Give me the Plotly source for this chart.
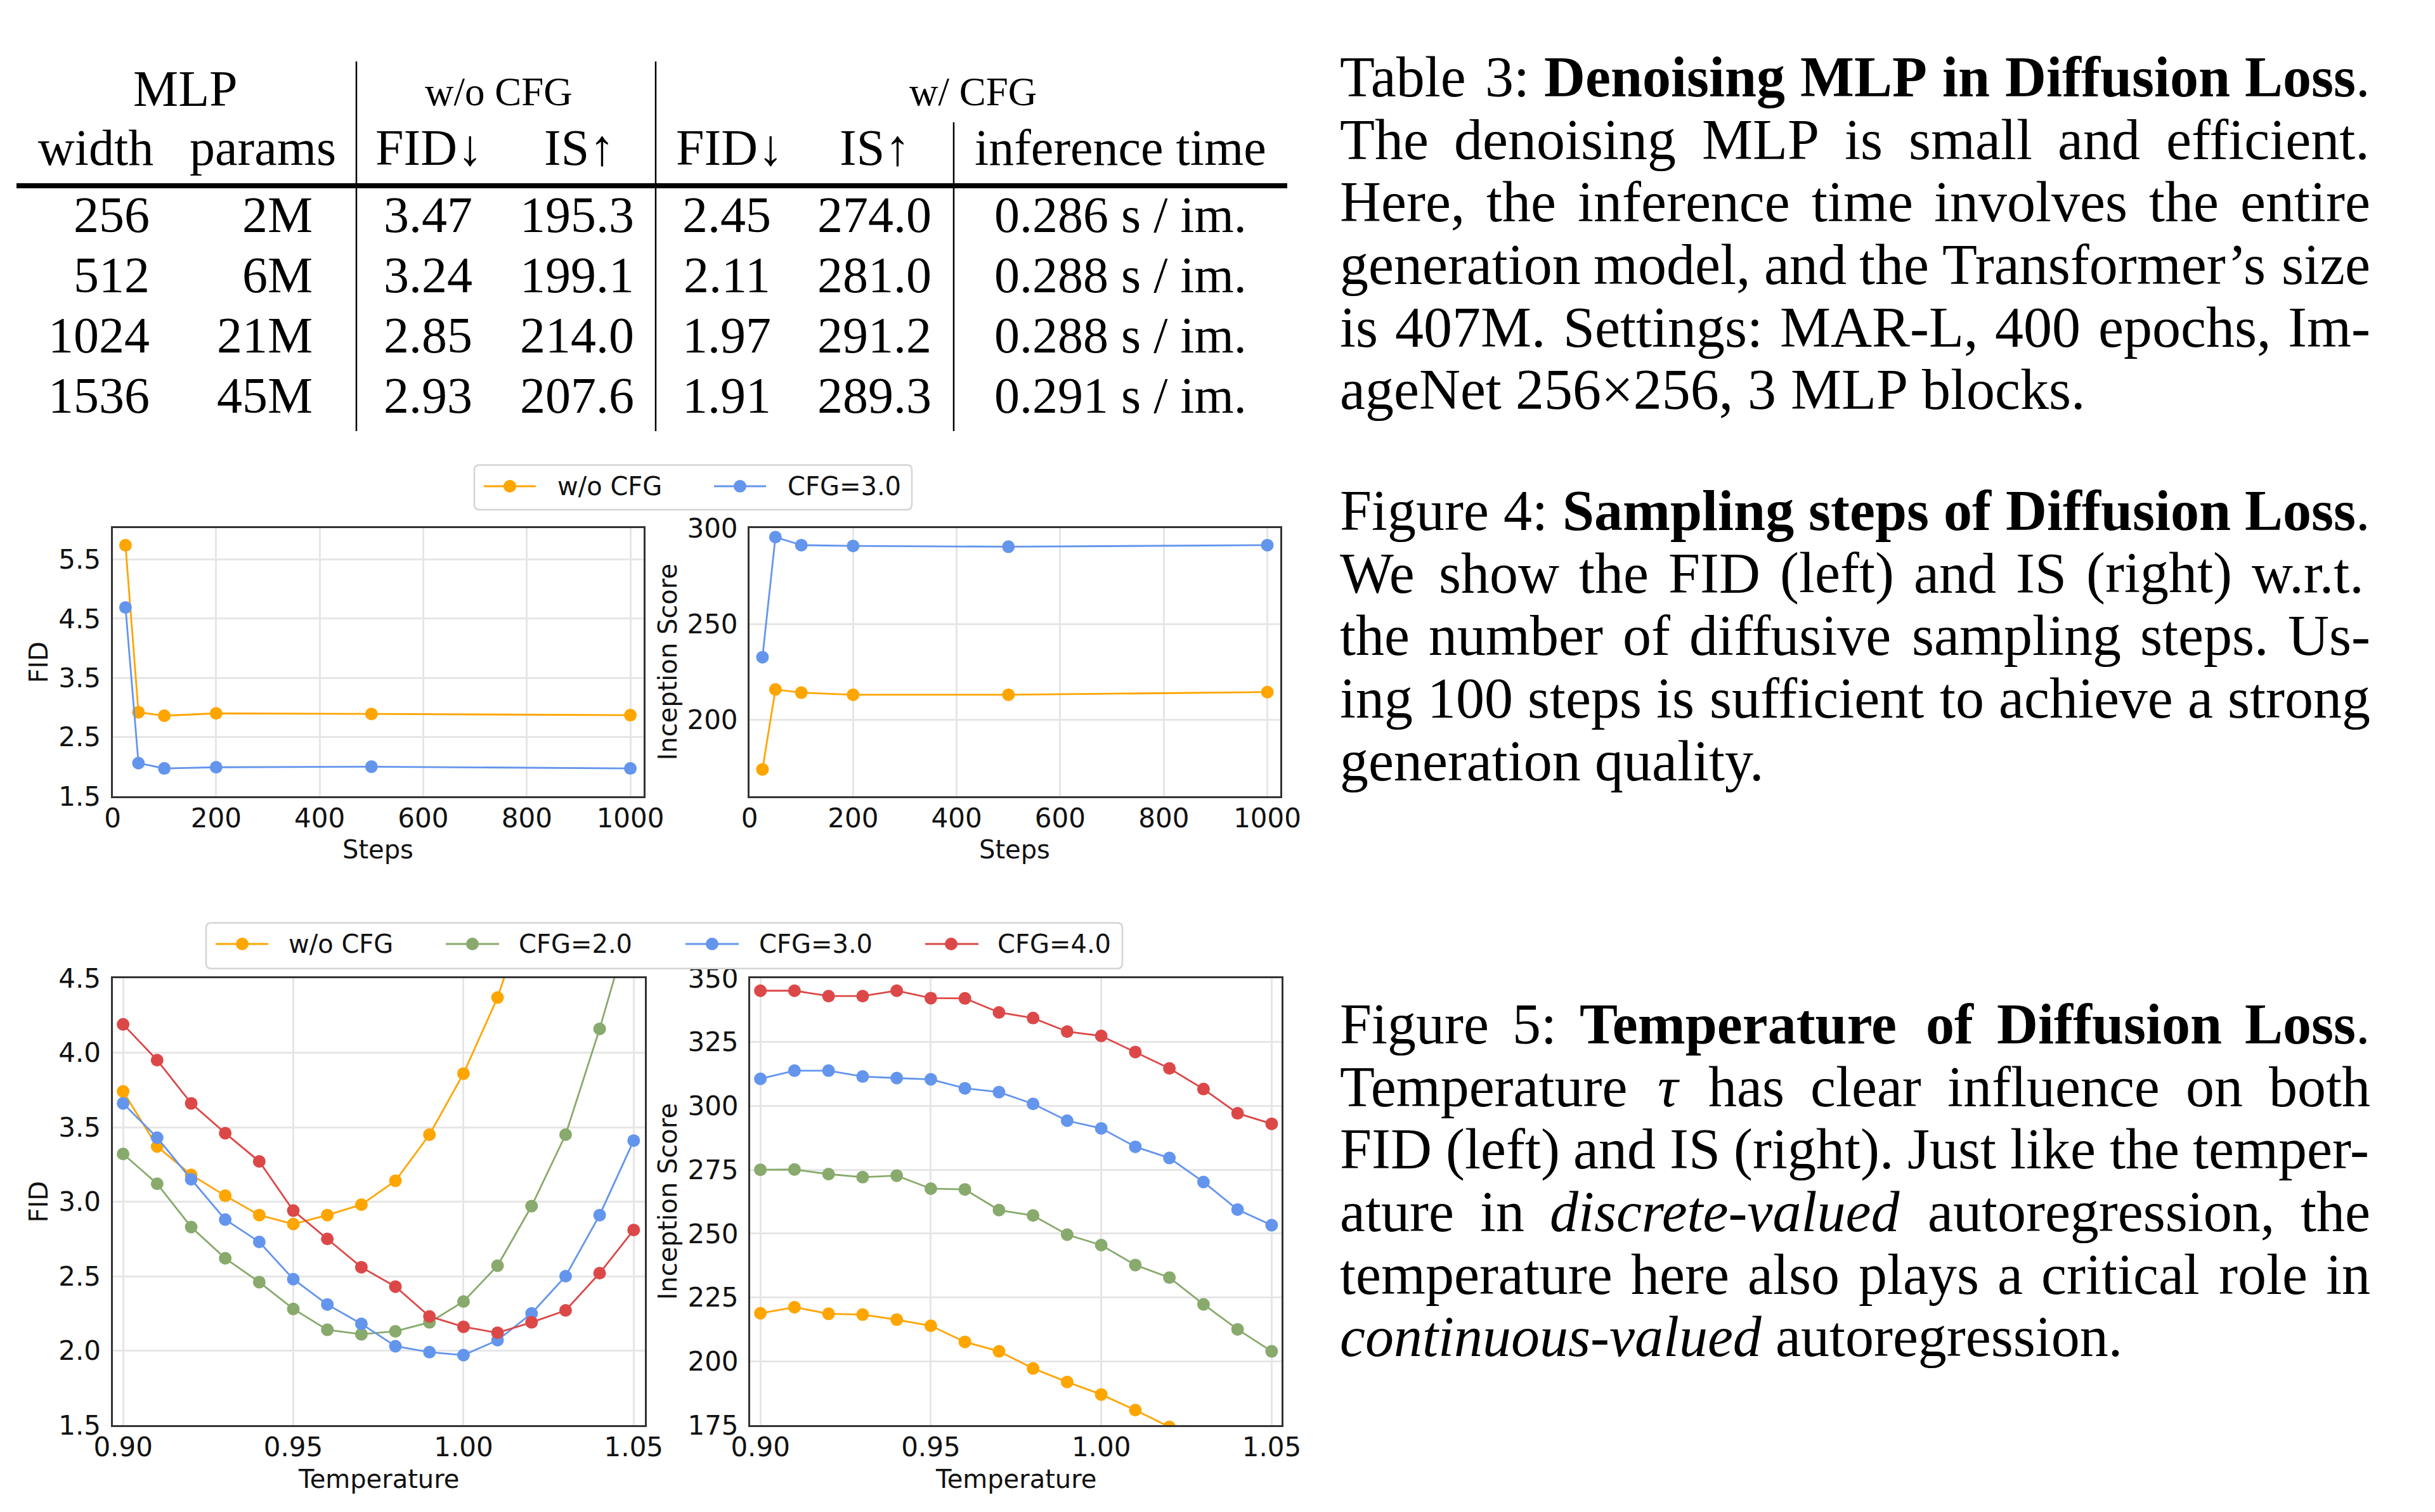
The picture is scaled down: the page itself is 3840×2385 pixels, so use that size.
import re
import plotly.graph_objects as go

# ---------------------------------------------------------------- data
steps = [25, 50, 100, 200, 500, 1000]
fid_steps_nocfg = [5.74, 2.92, 2.86, 2.90, 2.89, 2.87]
fid_steps_cfg3 = [4.69, 2.06, 1.97, 1.99, 2.00, 1.97]
is_steps_nocfg = [174.2, 215.9, 214.2, 213.1, 213.1, 214.5]
is_steps_cfg3 = [232.7, 295.3, 291.1, 290.7, 290.3, 291.1]

temps = [0.90, 0.91, 0.92, 0.93, 0.94, 0.95, 0.96, 0.97, 0.98, 0.99,
         1.00, 1.01, 1.02, 1.03, 1.04, 1.05]
fid_temp_nocfg = [3.74, 3.37, 3.18, 3.04, 2.91, 2.85, 2.91, 2.98, 3.14, 3.45,
                  3.86, 4.37, 5.05, None, None, None]
fid_temp_cfg2 = [3.32, 3.12, 2.83, 2.62, 2.46, 2.28, 2.14, 2.11, 2.13, 2.19,
                 2.33, 2.57, 2.97, 3.45, 4.16, 4.95]
fid_temp_cfg3 = [3.66, 3.43, 3.15, 2.88, 2.73, 2.48, 2.31, 2.18, 2.03, 1.99,
                 1.97, 2.07, 2.25, 2.50, 2.91, 3.41]
fid_temp_cfg4 = [4.19, 3.95, 3.66, 3.46, 3.27, 2.94, 2.75, 2.56, 2.43, 2.23,
                 2.16, 2.12, 2.19, 2.27, 2.52, 2.81]
is_temp_nocfg = [218.8, 221.2, 218.6, 218.3, 216.3, 213.9, 207.6, 203.9, 197.2, 191.9,
                 187.0, 180.9, 174.3, None, None, None]
is_temp_cfg2 = [275.0, 275.1, 273.3, 272.1, 272.7, 267.6, 267.3, 259.2, 257.1, 249.6,
                245.5, 237.7, 232.8, 222.3, 212.5, 203.9]
is_temp_cfg3 = [310.6, 313.8, 313.8, 311.5, 310.9, 310.4, 306.9, 305.4, 300.8, 294.2,
                291.2, 284.0, 279.6, 270.2, 259.4, 253.3]
is_temp_cfg4 = [345.1, 345.1, 343.0, 343.0, 345.1, 342.2, 342.1, 336.6, 334.4, 329.1,
                327.4, 321.1, 314.7, 306.6, 297.1, 293.0]

series_names_fig4 = ["w/o CFG", "CFG=3.0"]
series_names_fig5 = ["w/o CFG", "CFG=2.0", "CFG=3.0", "CFG=4.0"]

steps_ticks = [0, 200, 400, 600, 800, 1000]
fid_steps_ticks = [1.5, 2.5, 3.5, 4.5, 5.5]
is_steps_ticks = [200, 250, 300]
temp_ticks = [0.90, 0.95, 1.00, 1.05]
fid_temp_ticks = [1.5, 2.0, 2.5, 3.0, 3.5, 4.0, 4.5]
is_temp_ticks = [175, 200, 225, 250, 275, 300, 325, 350]

# table 3
tbl_width = ["256", "512", "1024", "1536"]
tbl_params = ["2M", "6M", "21M", "45M"]
tbl_fid_nocfg = ["3.47", "3.24", "2.85", "2.93"]
tbl_is_nocfg = ["195.3", "199.1", "214.0", "207.6"]
tbl_fid_cfg = ["2.45", "2.11", "1.97", "1.91"]
tbl_is_cfg = ["274.0", "281.0", "291.2", "289.3"]
tbl_time = ["0.286 s / im.", "0.288 s / im.", "0.288 s / im.", "0.291 s / im."]

caption_table3 = [
    "Table 3: [b]Denoising MLP in Diffusion Loss[/b].",
    "The denoising MLP is small and efficient.",
    "Here, the inference time involves the entire",
    "generation model, and the Transformer\u2019s size",
    "is 407M. Settings: MAR-L, 400 epochs, Im-",
    "ageNet 256\u00d7256, 3 MLP blocks.",
]
caption_fig4 = [
    "Figure 4: [b]Sampling steps of Diffusion Loss[/b].",
    "We show the FID (left) and IS (right) w.r.t.",
    "the number of diffusive sampling steps. Us-",
    "ing 100 steps is sufficient to achieve a strong",
    "generation quality.",
]
caption_fig5 = [
    "Figure 5: [b]Temperature of Diffusion Loss[/b].",
    "Temperature [i]\u03c4[/i] has clear influence on both",
    "FID (left) and IS (right). Just like the temper-",
    "ature in [i]discrete-valued[/i] autoregression, the",
    "temperature here also plays a critical role in",
    "[i]continuous-valued[/i] autoregression.",
]

# ---------------------------------------------------------------- styling
OFF = 8                      # default <body> margin of the written page
W, H = 3840 - OFF, 2385 - OFF
ORANGE = "#FFA500"
GREEN = "#88AA6C"
BLUE = "#6495ED"
RED = "#DC4848"
SANS = "DejaVu Sans"
SERIF = "Liberation Serif"
TICK = 42


def X(px):
    return (px - OFF) / W


def Y(py):
    return 1 - (py - OFF) / H


fig = go.Figure()


def add_series(x, y, color, xa, ya, name):
    fig.add_trace(go.Scatter(
        x=x, y=y, mode="lines+markers", name=name, showlegend=False,
        line=dict(color=color, width=2.8),
        marker=dict(color=color, size=20),
        xaxis=xa, yaxis=ya, connectgaps=False, cliponaxis=True))


add_series(steps, fid_steps_nocfg, ORANGE, "x", "y", series_names_fig4[0])
add_series(steps, fid_steps_cfg3, BLUE, "x", "y", series_names_fig4[1])
add_series(steps, is_steps_nocfg, ORANGE, "x2", "y2", series_names_fig4[0])
add_series(steps, is_steps_cfg3, BLUE, "x2", "y2", series_names_fig4[1])

fig5_colors = [ORANGE, GREEN, BLUE, RED]
for ys, c, n in zip([fid_temp_nocfg, fid_temp_cfg2, fid_temp_cfg3, fid_temp_cfg4],
                    fig5_colors, series_names_fig5):
    add_series(temps, ys, c, "x3", "y3", n)
for ys, c, n in zip([is_temp_nocfg, is_temp_cfg2, is_temp_cfg3, is_temp_cfg4],
                    fig5_colors, series_names_fig5):
    add_series(temps, ys, c, "x4", "y4", n)


def ax(domain, rng, tickvals, fmt=None, anchor=None, standoff=0):
    d = dict(domain=domain, range=rng, tickvals=tickvals, automargin=False,
             showline=True, linecolor="#333333", linewidth=3, mirror=True,
             showgrid=True, gridcolor="#e6e6e6", gridwidth=2.5,
             zeroline=False, ticks="", ticklabelstandoff=standoff,
             tickfont=dict(family=SANS, size=TICK, color="#111111"),
             anchor=anchor)
    if fmt:
        d["tickformat"] = fmt
    return d


XS, YS = -4, 7
f4y = [Y(1256), Y(833)]
f5y = [Y(2248), Y(1543)]
fig.update_layout(
    xaxis=ax([X(177.5), X(1014.5)], [0, 1025], steps_ticks, anchor="y", standoff=XS),
    yaxis=ax(f4y, [1.5, 6.03], fid_steps_ticks, ".1f", anchor="x", standoff=YS),
    xaxis2=ax([X(1182), X(2019)], [0, 1025], steps_ticks, anchor="y2", standoff=XS),
    yaxis2=ax(f4y, [160.2, 300], is_steps_ticks, anchor="x2", standoff=YS),
    xaxis3=ax([X(177.5), X(1016.5)], [0.8969, 1.0532], temp_ticks, ".2f", anchor="y3", standoff=XS),
    yaxis3=ax(f5y, [1.5, 4.5], fid_temp_ticks, ".1f", anchor="x3", standoff=YS),
    xaxis4=ax([X(1183), X(2021)], [0.897, 1.0529], temp_ticks, ".2f", anchor="y4", standoff=XS),
    yaxis4=ax(f5y, [175, 350], is_temp_ticks, anchor="x4", standoff=YS),
)

annotations = []
shapes = []


def text(px, baseline, s, size, family=SERIF, anchor="center", color="#000000"):
    annotations.append(dict(
        x=X(px), y=Y(baseline - 0.3375 * size), xref="paper", yref="paper",
        text=s, showarrow=False, xanchor=anchor, yanchor="middle",
        font=dict(family=family, size=size, color=color)))


def sans_label(px, py, s, angle=0):
    annotations.append(dict(
        x=X(px), y=Y(py), xref="paper", yref="paper", text=s, showarrow=False,
        xanchor="center", yanchor="middle", textangle=angle,
        font=dict(family=SANS, size=40, color="#111111")))


# axis titles
sans_label(60, 1044.5, "FID", -90)
sans_label(596, 1340, "Steps")
sans_label(1052, 1044.5, "Inception Score", -90)
sans_label(1600, 1340, "Steps")
sans_label(60, 1895.5, "FID", -90)
sans_label(597, 2333, "Temperature")
sans_label(1052, 1895.5, "Inception Score", -90)
sans_label(1602, 2333, "Temperature")


# ---------------------------------------------------------------- legends
def rounded_box(x0, y0, x1, y1, r):
    rx, ry = r / W, r / H
    a0, a1 = X(x0), X(x1)
    b0, b1 = Y(y0), Y(y1)
    p = (f"M{a0 + rx},{b0} L{a1 - rx},{b0} Q{a1},{b0} {a1},{b0 - ry} "
         f"L{a1},{b1 + ry} Q{a1},{b1} {a1 - rx},{b1} L{a0 + rx},{b1} "
         f"Q{a0},{b1} {a0},{b1 + ry} L{a0},{b0 - ry} Q{a0},{b0} {a0 + rx},{b0} Z")
    shapes.append(dict(type="path", path=p, xref="paper", yref="paper",
                       line=dict(color="#d4d4d4", width=2.5), fillcolor="rgba(255,255,255,0.9)"))


def legend_item(lx0, lx1, mx, tx, cy, color, label):
    shapes.append(dict(type="line", xref="paper", yref="paper",
                       x0=X(lx0), x1=X(lx1), y0=Y(cy), y1=Y(cy),
                       line=dict(color=color, width=2.8)))
    r = 10
    shapes.append(dict(type="circle", xref="paper", yref="paper",
                       x0=X(mx - r), x1=X(mx + r), y0=Y(cy + r), y1=Y(cy - r),
                       fillcolor=color, line=dict(color=color, width=0)))
    annotations.append(dict(x=X(tx), y=Y(cy), xref="paper", yref="paper", text=label,
                            showarrow=False, xanchor="left", yanchor="middle",
                            font=dict(family=SANS, size=40, color="#111111")))


rounded_box(748, 733.5, 1438, 804, 8)
legend_item(763, 845, 804, 877, 767, ORANGE, series_names_fig4[0])
legend_item(1126, 1208, 1167, 1240, 767, BLUE, series_names_fig4[1])

rounded_box(325, 1455.7, 1770, 1527.7, 8)
for (lx0, lx1, mx, tx), c, n in zip(
        [(340, 423, 382, 453), (703, 787, 745, 816), (1081, 1165, 1123, 1195), (1459, 1543, 1500, 1571)],
        fig5_colors, series_names_fig5):
    legend_item(lx0, lx1, mx, tx, 1489, c, n)

# ---------------------------------------------------------------- table
TS = 80
text(292, 167, "MLP", TS)
text(786, 166, "w/o CFG", 63)
text(1534, 166, "w/ CFG", 63)
text(151, 260, "width", TS)
text(414, 260, "params", TS)
text(676, 260, "FID\u2193", TS)
text(913, 260, "IS\u2191", TS)
text(1150, 260, "FID\u2193", TS)
text(1379, 260, "IS\u2191", TS)
text(1767, 260, "inference time", TS)
row_base = [366, 461, 556, 651]
for i, b in enumerate(row_base):
    text(238, b, tbl_width[i], TS, anchor="right")
    text(495, b, tbl_params[i], TS, anchor="right")
    text(675, b, tbl_fid_nocfg[i], TS)
    text(910, b, tbl_is_nocfg[i], TS)
    text(1146, b, tbl_fid_cfg[i], TS)
    text(1379, b, tbl_is_cfg[i], TS)
    text(1767, b, tbl_time[i], TS)

shapes.append(dict(type="line", xref="paper", yref="paper", x0=X(26), x1=X(2030),
                   y0=Y(293), y1=Y(293), line=dict(color="#000000", width=8)))
for vx, vy0 in [(562, 97), (1034, 97), (1504, 193)]:
    shapes.append(dict(type="line", xref="paper", yref="paper", x0=X(vx), x1=X(vx),
                       y0=Y(vy0), y1=Y(680), line=dict(color="#000000", width=2.5)))

# ---------------------------------------------------------------- captions (justified)
WR = dict(zip(" !(),-./0123456789:;", [250, 333, 333, 333, 250, 333, 250, 278] + [500] * 10 + [278, 278]))
WR.update(dict(zip("ABCDEFGHIJKLMNOPQRSTUVWXYZ",
                   [722, 667, 667, 722, 611, 556, 722, 722, 333, 389, 722, 611, 889, 722, 722, 556,
                    722, 667, 556, 611, 722, 722, 944, 722, 722, 611])))
WR.update(dict(zip("abcdefghijklmnopqrstuvwxyz",
                   [444, 500, 444, 500, 444, 333, 500, 500, 278, 278, 500, 278, 778, 500, 500, 500,
                    500, 333, 389, 278, 500, 500, 722, 500, 500, 444])))
WR.update({"\u2019": 333, "\u00d7": 564})
WB = dict(WR)
WB.update(dict(zip("ABCDEFGHIJKLMNOPQRSTUVWXYZ",
                   [722, 667, 722, 722, 667, 611, 778, 778, 389, 500, 778, 667, 944, 722, 778, 611,
                    778, 722, 556, 667, 722, 722, 1000, 722, 722, 667])))
WB.update(dict(zip("abcdefghijklmnopqrstuvwxyz",
                   [500, 556, 444, 556, 444, 333, 500, 556, 278, 333, 556, 278, 833, 556, 500, 556,
                    556, 444, 389, 333, 556, 500, 722, 500, 500, 444])))
WI = dict(WR)
WI.update(dict(zip("abcdefghijklmnopqrstuvwxyz",
                   [500, 500, 444, 500, 444, 278, 500, 500, 278, 278, 444, 278, 722, 500, 500, 500,
                    500, 389, 389, 278, 500, 444, 667, 444, 444, 389])))
WI.update({"\u03c4": 440})
WIDTHS = {"r": WR, "b": WB, "i": WI}


def parse_words(line):
    style = "r"
    chars = []
    for tok in re.split(r"(\[/?[bi]\])", line):
        if tok in ("[b]", "[i]"):
            style = tok[1]
            continue
        if tok in ("[/b]", "[/i]"):
            style = "r"
            continue
        chars.extend((ch, style) for ch in tok)
    words, cur = [], []
    for ch, st in chars:
        if ch == " ":
            if cur:
                words.append(cur)
                cur = []
        else:
            cur.append((ch, st))
    if cur:
        words.append(cur)
    return words


def word_html(word):
    out, run, st0 = [], "", None
    for ch, st in word + [("", None)]:
        if st != st0 and run:
            out.append(run if st0 == "r" else f"<{st0}>{run}</{st0}>")
            run = ""
        run += ch
        st0 = st
    return "".join(out)


def caption(lines, first_base, spacing, size=90, left=2111, right=3736):
    for k, line in enumerate(lines):
        words = parse_words(line)
        wl = [sum(WIDTHS[st].get(ch, 500) for ch, st in w) * size / 1000 for w in words]
        last = k == len(lines) - 1
        gap = 0.25 * size if last or len(words) < 2 else (right - left - sum(wl)) / (len(words) - 1)
        xpos = left
        base = first_base + k * spacing
        for w, wd in zip(words, wl):
            text(xpos, base, word_html(w), size, anchor="left")
            xpos += wd + gap


caption(caption_table3, 152, 98.6)
caption(caption_fig4, 836, 98.6)
caption(caption_fig5, 1646, 98.6)

fig.update_layout(
    width=W, height=H, margin=dict(l=0, r=0, t=0, b=0, autoexpand=False),
    paper_bgcolor="white", plot_bgcolor="white", showlegend=False,
    annotations=annotations, shapes=shapes,
)
fig.write_html("out.html")
